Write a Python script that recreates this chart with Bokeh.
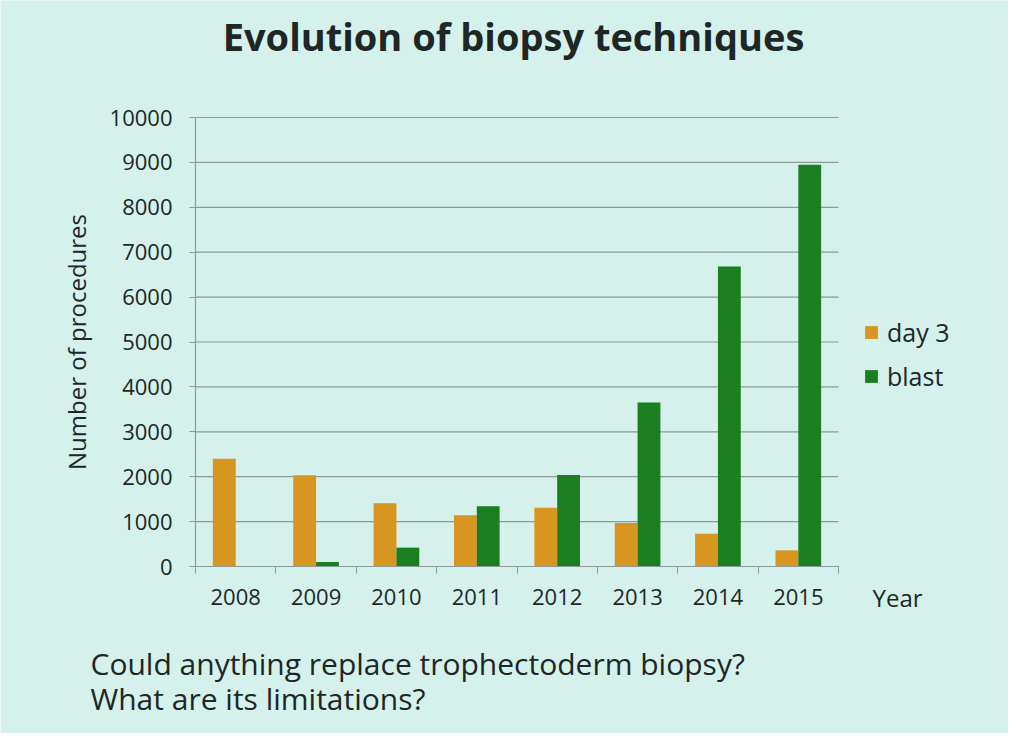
from bokeh.plotting import figure
from bokeh.models import (Label, Legend, LegendItem, FixedTicker, ColumnDataSource, Range1d)
from bokeh.transform import dodge
from bokeh.embed import file_html
from bokeh.resources import INLINE

# ---- data ----
years = ["2008", "2009", "2010", "2011", "2012", "2013", "2014", "2015"]
day3 = [2400, 2030, 1410, 1140, 1310, 970, 730, 360]
blast = [0, 100, 420, 1340, 2040, 3650, 6680, 8950]
y_ticks = [0, 1000, 2000, 3000, 4000, 5000, 6000, 7000, 8000, 9000, 10000]

# ---- layout (pixels on the canvas) ----
W, H = 1008, 733
PLOT_L, PLOT_R, PLOT_T, PLOT_B = 195, 838, 117, 566
Y_MAX = y_ticks[-1]
n = len(years)
px_per_cat = (PLOT_R - PLOT_L) / n
px_per_unit = (PLOT_B - PLOT_T) / Y_MAX
x_start = -0.5 - PLOT_L / px_per_cat
x_end = -0.5 + (W - PLOT_L) / px_per_cat
y_start = -(H - PLOT_B) / px_per_unit
y_end = Y_MAX + PLOT_T / px_per_unit

BG = "#d4f1ec"
TXT = "#1e2626"
GRID = "#8c9a98"
FONT = "Open Sans"

idx = list(range(n))
src = ColumnDataSource(dict(x=idx, day3=day3, blast=blast))

p = figure(width=W, height=H, output_backend="svg", toolbar_location=None,
           x_range=Range1d(x_start, x_end), y_range=Range1d(y_start, y_end),
           min_border=0, min_border_left=0, min_border_right=0,
           min_border_top=0, min_border_bottom=0)
p.title.visible = False
p.background_fill_color = BG
p.border_fill_color = BG
p.outline_line_color = None
p.xgrid.visible = False
p.ygrid.visible = False

# horizontal grid lines across the category span
p.segment(x0=[-0.5] * len(y_ticks), x1=[n - 0.5] * len(y_ticks), y0=y_ticks, y1=y_ticks,
          line_color=GRID, line_width=1.2, level="underlay")

r1 = p.vbar(x=dodge("x", -0.142, range=p.x_range), top="day3", width=0.284, source=src,
            fill_color="#d8951f", line_color=None)
r2 = p.vbar(x=dodge("x", 0.142, range=p.x_range), top="blast", width=0.284, source=src,
            fill_color="#1b7e20", line_color=None)

# x axis at y = 0
xa = p.xaxis[0]
xa.fixed_location = 0
xa.bounds = (-0.5, n - 0.5)
xa.ticker = FixedTicker(ticks=idx, minor_ticks=[i - 0.5 for i in idx] + [n - 0.5])
xa.major_label_overrides = {i: y for i, y in enumerate(years)}
xa.major_tick_out = 0
xa.major_tick_in = 0
xa.minor_tick_out = 7
xa.minor_tick_in = 0
xa.minor_tick_line_color = GRID
xa.axis_line_color = GRID
xa.axis_line_width = 1.2
xa.major_label_standoff = 15
xa.major_label_text_font = FONT
xa.major_label_text_font_size = "22px"
xa.major_label_text_color = TXT

# y axis at the left category edge
ya = p.yaxis[0]
ya.fixed_location = -0.5
ya.bounds = (0, Y_MAX)
ya.ticker = FixedTicker(ticks=y_ticks)
ya.minor_tick_line_color = None
ya.major_tick_out = 6
ya.major_tick_in = 0
ya.major_tick_line_color = GRID
ya.axis_line_color = GRID
ya.axis_line_width = 1.2
ya.major_label_standoff = 17
ya.major_label_text_font = FONT
ya.major_label_text_font_size = "22px"
ya.major_label_text_color = TXT
ya.axis_label = "Number of procedures"
ya.axis_label_text_font = FONT
ya.axis_label_text_font_size = "24px"
ya.axis_label_text_font_style = "normal"
ya.axis_label_text_color = TXT
ya.axis_label_standoff = 14

legend = Legend(items=[LegendItem(label="day 3", renderers=[r1]),
                       LegendItem(label="blast", renderers=[r2])],
                location=(863, H - 393), orientation="vertical")
legend.background_fill_alpha = 0
legend.border_line_color = None
legend.padding = 0
legend.margin = 0
legend.spacing = 10
legend.glyph_width = 16
legend.glyph_height = 16
legend.label_standoff = 8
legend.label_text_font = FONT
legend.label_text_font_size = "25px"
legend.label_text_color = TXT
p.add_layout(legend, "center")


def add_label(x, y, text, size, style="normal", align="left"):
    p.add_layout(Label(x=x, y=H - y, x_units="screen", y_units="screen", text=text,
                       text_font=FONT, text_font_size=size, text_font_style=style,
                       text_color=TXT, text_align=align, text_baseline="middle"))


add_label(513, 35, "Evolution of biopsy techniques", "38px", "bold", "center")
add_label(897, 597, "Year", "24px", "normal", "center")
add_label(90, 663, "Could anything replace trophectoderm biopsy?", "30px")
add_label(90, 698, "What are its limitations?", "30px")

open("out.html", "w").write(file_html(p, INLINE))
